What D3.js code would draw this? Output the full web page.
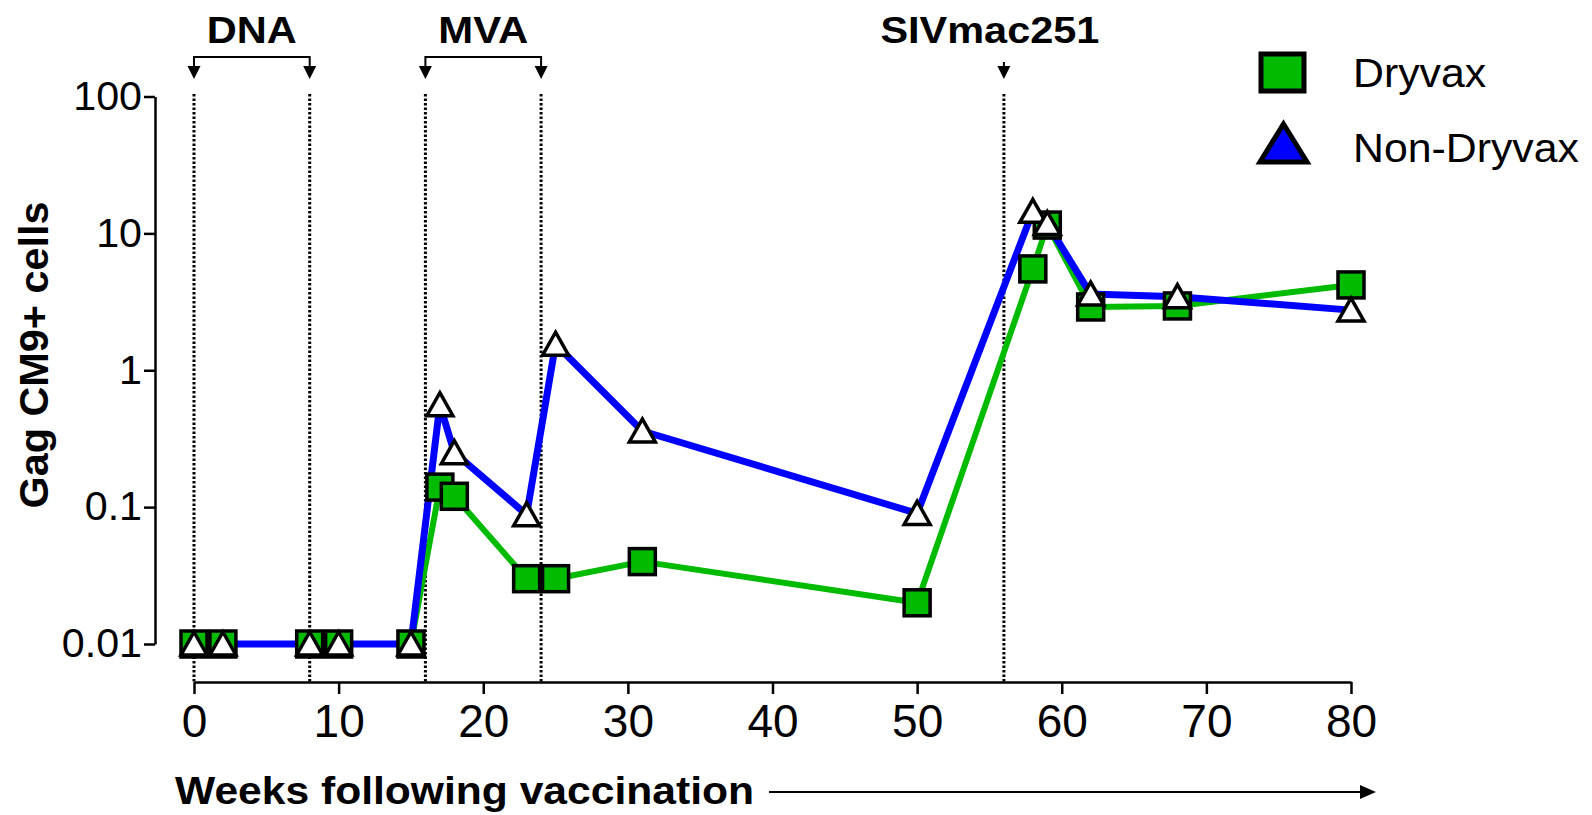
<!DOCTYPE html>
<html>
<head>
<meta charset=utf-8>
<style>
body {margin: 0; background: #fff;}
svg {display: block;}
svg text {font-family: 'Liberation Sans', Arimo, Arial, Helvetica, sans-serif;}
.axis path, .axis line {stroke: #000; stroke-width: 2.5;}
.axis text {fill: #000;}
</style>
</head>
<body>
<svg id=chart width=1592 height=815></svg>

<script src='https://cdn.jsdelivr.net/npm/d3@7/dist/d3.min.js'></script>
<script>
//data
var weeks = [0, 2, 8, 10, 15, 17, 18, 23, 25, 31, 50, 58, 59, 62, 68, 80];
var dryvax = [0.01, 0.01, 0.01, 0.01, 0.01, 0.14, 0.12, 0.03, 0.03, 0.04, 0.02, 5.5, 11.5, 2.9, 2.95, 4.2];
var nonDryvax = [0.01, 0.01, 0.01, 0.01, 0.01, 0.56, 0.25, 0.088, 1.55, 0.36, 0.09, 14.5, 11.8, 3.6, 3.45, 2.75];
var xTicks = [0, 10, 20, 30, 40, 50, 60, 70, 80];
var yTicks = [0.01, 0.1, 1, 10, 100];
var yTickLabels = ['0.01', '0.1', '1', '10', '100'];
var markers = [0, 8, 16, 24, 56];        //dotted vertical lines
var brackets = [{name: 'DNA', from: 0, to: 8}, {name: 'MVA', from: 16, to: 24}];
var challenge = {name: 'SIVmac251', at: 56};
var seriesNames = ['Dryvax', 'Non-Dryvax'];

var green = '#00bb00', blue = '#0000ff';
var font = "'Liberation Sans', Arimo, Arial, Helvetica, sans-serif";

var svg = d3.select('#chart');

//scales
var x = d3.scaleLinear().domain([0, 80]).range([194, 1351]);
var y = d3.scaleLog().domain([0.01, 100]).range([644, 96.5]);

//stretch text horizontally (figure fonts are a bit wide)
function stretch(sel, k) {
  sel.each(function() {
    var w = this.getComputedTextLength();
    d3.select(this).attr('textLength', w * k).attr('lengthAdjust', 'spacingAndGlyphs');
  });
}

//dotted vaccination/challenge lines
svg.append('g').selectAll('line')
  .data(markers)
  .enter().append('line')
    .attr('x1', function(d) { return x(d); })
    .attr('x2', function(d) { return x(d); })
    .attr('y1', 94).attr('y2', 682)
    .attr('stroke', '#000')
    .attr('stroke-width', 3)
    .attr('stroke-dasharray', '2.5,2');

//axes
var xAxis = svg.append('g')
    .attr('class', 'axis')
    .attr('transform', 'translate(0,682)')
    .call(d3.axisBottom(x).tickValues(xTicks).tickSize(12).tickSizeOuter(0).tickPadding(10));
xAxis.attr('font-family', font);
xAxis.selectAll('text').attr('font-size', 46);

var yAxis = svg.append('g')
    .attr('class', 'axis')
    .attr('transform', 'translate(155,0)')
    .call(d3.axisLeft(y).tickValues(yTicks).tickSize(11).tickSizeOuter(0).tickPadding(2)
      .tickFormat(function(d, i) { return yTickLabels[i]; }));
yAxis.attr('font-family', font);
yAxis.selectAll('text').attr('font-size', 40);
stretch(yAxis.selectAll('text'), 1.03);

//axis titles
svg.append('text')
    .attr('transform', 'translate(48,355) rotate(-90)')
    .attr('text-anchor', 'middle')
    .attr('font-size', 41)
    .attr('font-weight', 'bold')
    .attr('textLength', 307)
    .attr('lengthAdjust', 'spacingAndGlyphs')
    .text('Gag CM9+ cells');

svg.append('text')
    .attr('x', 175).attr('y', 804)
    .attr('font-size', 38)
    .attr('font-weight', 'bold')
    .attr('textLength', 579)
    .attr('lengthAdjust', 'spacingAndGlyphs')
    .text('Weeks following vaccination');

//long arrow after the x title
svg.append('line')
    .attr('x1', 769).attr('x2', 1362)
    .attr('y1', 792).attr('y2', 792)
    .attr('stroke', '#000').attr('stroke-width', 2);
svg.append('path')
    .attr('d', 'M1360,785 L1376,792 L1360,799 Z')
    .attr('fill', '#000');

//arrowhead helper for the annotations
function arrowHead(g, cx) {
  g.append('path')
    .attr('d', 'M' + (cx - 6.5) + ',66 L' + (cx + 6.5) + ',66 L' + cx + ',79 Z')
    .attr('fill', '#000');
}

//DNA / MVA brackets
brackets.forEach(function(b) {
  var g = svg.append('g');
  var x0 = x(b.from), x1 = x(b.to);
  g.append('path')
    .attr('d', 'M' + x0 + ',67 V57 H' + x1 + ' V67')
    .attr('fill', 'none').attr('stroke', '#000').attr('stroke-width', 2);
  arrowHead(g, x0);
  arrowHead(g, x1);
  g.append('text')
    .attr('x', (x0 + x1) / 2).attr('y', 43)
    .attr('text-anchor', 'middle')
    .attr('font-size', 36).attr('font-weight', 'bold')
    .attr('textLength', 90).attr('lengthAdjust', 'spacingAndGlyphs')
    .text(b.name);
});

//challenge arrow
var cg = svg.append('g');
cg.append('line')
    .attr('x1', x(challenge.at)).attr('x2', x(challenge.at))
    .attr('y1', 62).attr('y2', 68)
    .attr('stroke', '#000').attr('stroke-width', 2);
arrowHead(cg, x(challenge.at));
cg.append('text')
    .attr('x', x(challenge.at) - 14).attr('y', 43)
    .attr('text-anchor', 'middle')
    .attr('font-size', 36).attr('font-weight', 'bold')
    .attr('textLength', 219).attr('lengthAdjust', 'spacingAndGlyphs')
    .text(challenge.name);

//lines
var line = d3.line()
    .x(function(d) { return x(d[0]); })
    .y(function(d) { return y(d[1]); });

var greenData = weeks.map(function(w, i) { return [w, dryvax[i]]; });
var blueData = weeks.map(function(w, i) { return [w, nonDryvax[i]]; });

svg.append('path')
    .datum(greenData)
    .attr('d', line)
    .attr('fill', 'none')
    .attr('stroke', green)
    .attr('stroke-width', 6)
    .attr('stroke-linejoin', 'round');

svg.append('path')
    .datum(blueData)
    .attr('d', line)
    .attr('fill', 'none')
    .attr('stroke', blue)
    .attr('stroke-width', 7)
    .attr('stroke-linejoin', 'round');

//square markers
svg.append('g').selectAll('rect')
  .data(greenData)
  .enter().append('rect')
    .attr('x', function(d) { return x(d[0]) - 13; })
    .attr('y', function(d) { return y(d[1]) - 13; })
    .attr('width', 26).attr('height', 26)
    .attr('fill', green)
    .attr('stroke', '#000')
    .attr('stroke-width', 3.5);

//triangle markers
var tri = 'M0,-12 L13,11 L-13,11 Z';
svg.append('g').selectAll('path')
  .data(blueData)
  .enter().append('path')
    .attr('transform', function(d) { return 'translate(' + x(d[0]) + ',' + y(d[1]) + ')'; })
    .attr('d', tri)
    .attr('fill', '#fff')
    .attr('stroke', '#000')
    .attr('stroke-width', 3.5)
    .attr('stroke-linejoin', 'miter');

//legend
var legend = svg.append('g');
legend.append('rect')
    .attr('x', 1261).attr('y', 54)
    .attr('width', 43).attr('height', 37)
    .attr('fill', green).attr('stroke', '#000').attr('stroke-width', 5);
legend.append('path')
    .attr('d', 'M1283.5,124 L1307,162 L1260,162 Z')
    .attr('fill', blue).attr('stroke', '#000').attr('stroke-width', 5);
legend.selectAll('text')
  .data(seriesNames)
  .enter().append('text')
    .attr('x', 1353)
    .attr('y', function(d, i) { return 87 + i * 75; })
    .attr('font-size', 40)
    .text(function(d) { return d; })
    .call(stretch, 1.07);
</script>
</body>
</html>
